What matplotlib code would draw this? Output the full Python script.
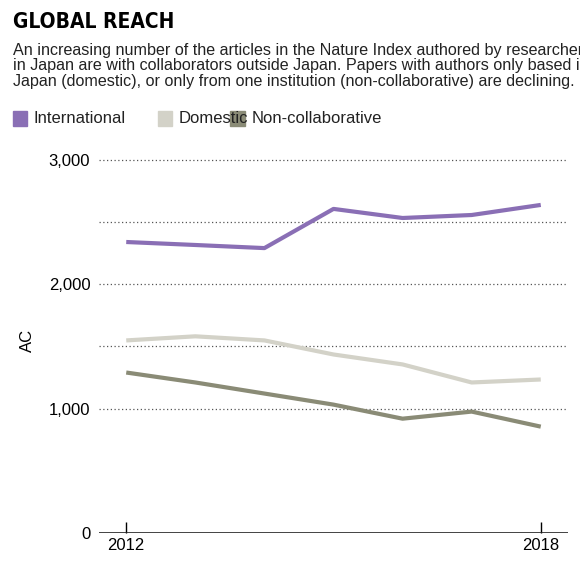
import matplotlib
matplotlib.use("Agg")
import matplotlib.pyplot as plt
from matplotlib.patches import Rectangle

years = [2012, 2013, 2014, 2015, 2016, 2017, 2018]
international = [2339, 2315, 2290, 2605, 2532, 2556, 2637]
domestic = [1548, 1581, 1548, 1435, 1355, 1210, 1234]
noncollab = [1290, 1210, 1121, 1032, 919, 976, 855]
colors = ["#8a6fb5", "#d3d2c8", "#8a8b76"]
names = ["International", "Domestic", "Non-collaborative"]

plt.rcParams['font.family'] = ['Liberation Sans', 'DejaVu Sans']
fig = plt.figure(figsize=(5.8, 5.8), dpi=100)
ax = fig.add_axes([0.17, 0.081, 0.81, 0.665])

for vals, c in zip([international, domestic, noncollab], colors):
    ax.plot(years, vals, color=c, lw=3, solid_capstyle='butt')

ax.set_xlim(2011.6, 2018.4)
ax.set_ylim(0, 3100)
for y in [1000, 1500, 2000, 2500, 3000]:
    ax.axhline(y, color='#555555', lw=0.9, ls=(0, (1, 2)), zorder=0)
ax.axhline(0, color='#222222', lw=1.2)
ax.set_yticks([0, 1000, 2000, 3000])
ax.set_yticklabels(['0', '1,000', '2,000', '3,000'])
ax.set_xticks([2012, 2018])
ax.tick_params(axis='y', length=0, labelsize=12, pad=6)
ax.tick_params(axis='x', length=8, width=1, labelsize=12, direction='in')
for s in ax.spines.values():
    s.set_visible(False)
ax.set_ylabel('AC', fontsize=12, labelpad=10)

fig.text(0.022, 0.952, 'GLOBAL REACH', fontsize=15, fontweight='bold', family=['DejaVu Sans'],
         fontstretch='condensed')
fig.text(0.022, 0.852,
         'An increasing number of the articles in the Nature Index authored by researchers\n'
         'in Japan are with collaborators outside Japan. Papers with authors only based in\n'
         'Japan (domestic), or only from one institution (non-collaborative) are declining.',
         fontsize=11.6, linespacing=1.05, color='#222222')
xs = [0.022, 0.272, 0.397]
for x, n, c in zip(xs, names, colors):
    fig.patches.append(Rectangle((x, 0.783), 0.025, 0.025, color=c, transform=fig.transFigure))
    fig.text(x + 0.036, 0.795, n, fontsize=12, va='center', color='#222222')

fig.savefig('out.png', dpi=100)
